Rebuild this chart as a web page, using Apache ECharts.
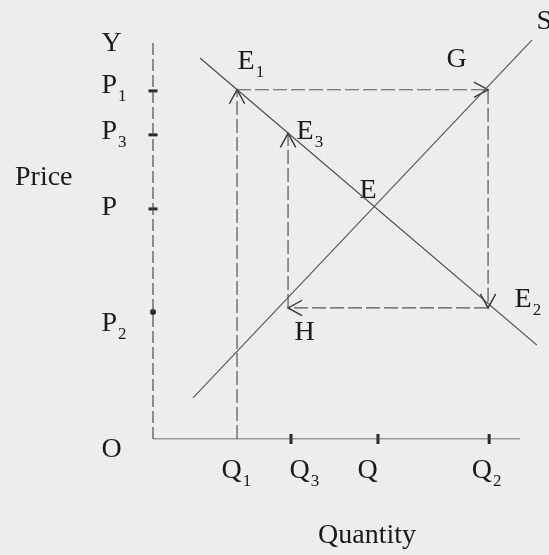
<!DOCTYPE html>
<html>
<head>
<meta charset="utf-8">
<script src="https://cdn.jsdelivr.net/npm/echarts@6/dist/echarts.min.js"></script>
<style>
  html, body { margin: 0; padding: 0; background: #ededed; }
  #chart { width: 549px; height: 555px; }
</style>
</head>
<body>
<div id="chart"></div>
<script>
// quantity (x) and price (y), both read on a 0..10 scale
const qNames = ['Q1', 'Q3', 'Q', 'Q2']
const qValues = [2.29, 3.76, 6.13, 9.16]
const pNames = ['Y', 'P1', 'P3', 'P', 'P2']
const pValues = [10, 8.79, 7.68, 5.81, 3.21]
const demand = [[1.28, 9.62], [10.46, 2.37]]
const supply = [[1.09, 1.04], [10.33, 10.08]]
// cobweb path: Q1 -> E1 -> G -> E2 -> H -> E3
const cobweb = [[2.29, 0], [2.29, 8.82], [9.13, 8.82], [9.13, 3.31], [3.68, 3.31], [3.68, 7.72]]
const equilibrium = [6.02, 5.88]
const pointNames = ['E1', 'G', 'E2', 'H', 'E3', 'E', 'S']
const points = [cobweb[1], cobweb[2], cobweb[3], cobweb[4], cobweb[5], equilibrium, supply[1]]
// drawn axis lines: x from O to 10, y from O to 10
const xAxisLine = [[0, 0], [10, 0]]
const yAxisLine = [[0, 0], [0, 10]]

const font = 'Liberation Serif'
const ink = '#1a1a1a'
const lineColor = '#4a4a4a'

// 标签相对锚点的像素偏移 (左边缘, 主字母中线)
const labelOffsets = {
  Q1: [-15, 32], Q3: [-1, 32], Q: [-20, 32], Q2: [-17, 32],
  Y: [-51, 1], P1: [-51, -5], P3: [-51, -3], P: [-51, -1], P2: [-51, 12], O: [-51, 11],
  E1: [1, -28], G: [-41, -30], E2: [27, -8], H: [7, 25], E3: [9, -1], E: [-14, -15], S: [5, -18]
}

const rich = {
  m: { fontFamily: font, fontSize: 28, color: ink, lineHeight: 28 },
  s: { fontFamily: font, fontSize: 17, color: ink, lineHeight: 17, padding: [22, 0, 0, 1] }
}

function fmt (name) {
  let m = /^(\D+)(\d*)$/.exec(name)
  return m[2] ? `{m|${m[1]}}{s|${m[2]}}` : `{m|${m[1]}}`
}

let labelData = []
qNames.forEach((n, i) => labelData.push({ name: n, value: [qValues[i], 0] }))
pNames.forEach((n, i) => labelData.push({ name: n, value: [0, pValues[i]] }))
labelData.push({ name: 'O', value: [0, 0] })
pointNames.forEach((n, i) => labelData.push({ name: n, value: points[i] }))
labelData = labelData.map(d => Object.assign(d, { label: { offset: labelOffsets[d.name] } }))

const segments = cobweb.slice(1).map((p, i) => [cobweb[i][0], cobweb[i][1], p[0], p[1]])

function renderArrow (params, api) {
  let a = api.coord([api.value(0), api.value(1)])
  let b = api.coord([api.value(2), api.value(3)])
  let ang = Math.atan2(b[1] - a[1], b[0] - a[0])
  let len = 16
  let spread = 0.5
  let l = [b[0] - len * Math.cos(ang - spread), b[1] - len * Math.sin(ang - spread)]
  let r = [b[0] - len * Math.cos(ang + spread), b[1] - len * Math.sin(ang + spread)]
  return {
    type: 'group',
    children: [
      { type: 'line', shape: { x1: a[0], y1: a[1], x2: b[0], y2: b[1] }, style: { stroke: '#555', lineWidth: 1.2, lineDash: [14, 4] } },
      { type: 'polyline', shape: { points: [l, b, r] }, style: { stroke: '#333', lineWidth: 1.4, fill: null } }
    ]
  }
}

// 保持刻度: x 每单位 36.7px, y 每单位 39.6px
let chart = echarts.init(document.getElementById('chart'))
let option = {
  backgroundColor: '#ededed',
  animation: false,
  grid: { left: 153, right: 0, top: 0, bottom: 116 },
  xAxis: {
    type: 'value', min: 0, max: 396 / 36.7, show: false
  },
  yAxis: {
    type: 'value', min: 0, max: 439 / 39.6, show: false
  },
  graphic: [
    { type: 'text', left: 15, top: 164, style: { text: 'Price', font: `28px "${font}"`, fill: ink } },
    { type: 'text', left: 318, top: 522, style: { text: 'Quantity', font: `28px "${font}"`, fill: ink } }
  ],
  series: [
    {
      type: 'line', name: 'xAxisLine', data: xAxisLine, symbol: 'none',
      lineStyle: { color: lineColor, width: 1.2 }
    },
    {
      type: 'line', name: 'yAxisLine', data: yAxisLine, symbol: 'none',
      lineStyle: { color: lineColor, width: 1.2, type: [12, 4] }
    },
    {
      type: 'line', name: 'demand', data: demand, symbol: 'none',
      lineStyle: { color: lineColor, width: 1.2 }
    },
    {
      type: 'line', name: 'supply', data: supply, symbol: 'none',
      lineStyle: { color: '#5a5a5a', width: 1.2 }
    },
    {
      type: 'custom', name: 'cobweb', data: segments, clip: false,
      encode: { x: [0, 2], y: [1, 3] },
      renderItem: renderArrow
    },
    {
      type: 'scatter', name: 'qTicks', clip: false,
      data: qValues.slice(1).map(v => [v, 0]),
      symbol: 'rect', symbolSize: [3, 10], itemStyle: { color: '#2a2a2a', opacity: 1 }
    },
    {
      type: 'scatter', name: 'pTicks', clip: false,
      data: pValues.slice(1, 4).map(v => [0, v]),
      symbol: 'rect', symbolSize: [9, 3], itemStyle: { color: '#2a2a2a', opacity: 1 }
    },
    {
      type: 'scatter', name: 'p2Dot', clip: false,
      data: [[0, pValues[4]]],
      symbol: 'circle', symbolSize: 6, itemStyle: { color: '#2a2a2a', opacity: 1 }
    },
    {
      type: 'scatter', name: 'labels', clip: false, silent: true,
      data: labelData,
      symbol: 'circle', symbolSize: 1, itemStyle: { color: 'rgba(0,0,0,0)', opacity: 1 },
      label: {
        show: true, position: [0, 0], align: 'left', verticalAlign: 'middle',
        color: ink, opacity: 1,
        formatter: p => fmt(p.name), rich: rich
      }
    }
  ]
}
chart.setOption(option)
</script>
</body>
</html>
